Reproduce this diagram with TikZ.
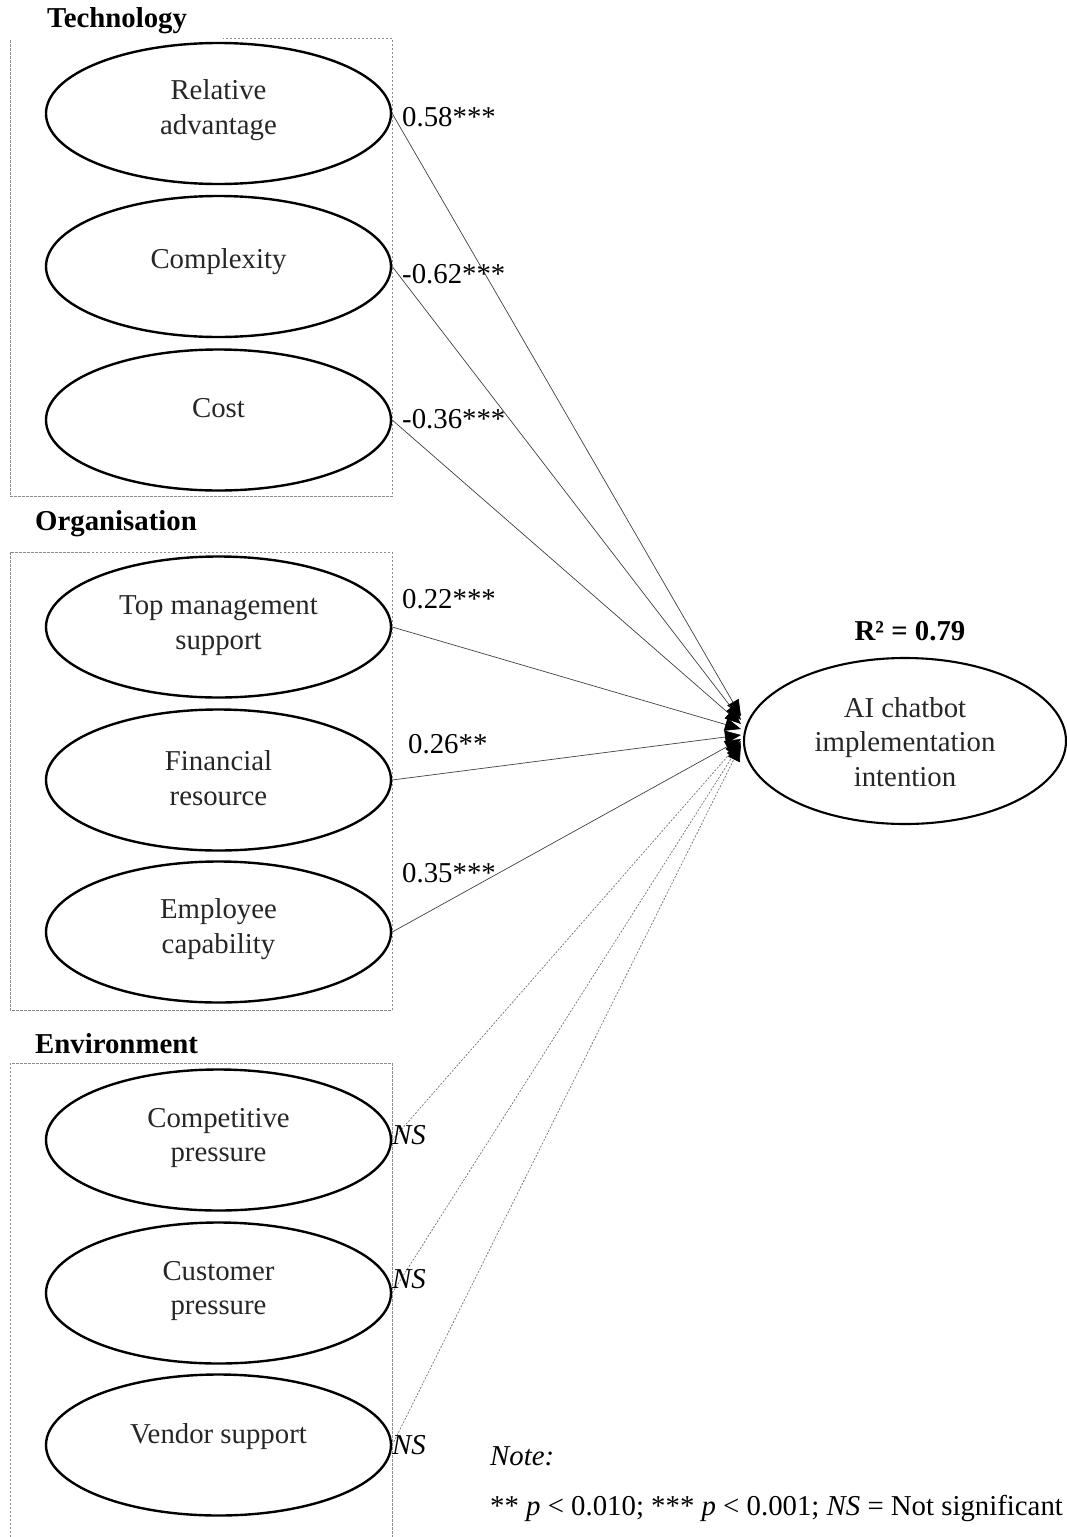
\documentclass[tikz,border=0pt]{standalone}
\usepackage{fontspec}
\setmainfont{Liberation Serif}
\usetikzlibrary{arrows.meta,calc,shapes.geometric}
\begin{document}
\begin{tikzpicture}[x=1pt,y=-1pt,
  every node/.style={font=\fontsize{28.8}{34.8}\selectfont},
  grpbox/.style={draw=black!45, line width=0.9pt, dash pattern=on 2.5pt off 1.5pt},
  cons/.style={draw, ellipse, line width=2.4pt, minimum width=345pt, minimum height=141pt, inner sep=0pt},
  target/.style={draw, ellipse, line width=2.1pt, minimum width=322pt, minimum height=166pt, inner sep=0pt},
  ctext/.style={align=center, text=black!85, inner sep=0pt},
  head/.style={font=\fontsize{28.8}{34}\selectfont\bfseries, anchor=base west, inner sep=0pt},
  coef/.style={anchor=base west, inner sep=0pt},
  sig/.style={draw=black!75, line width=0.7pt, -{Triangle[length=16pt,width=13pt,color=black,fill=black]}},
  nsig/.style={draw=black!55, line width=0.7pt, dash pattern=on 2pt off 1.5pt, -{Triangle[length=16pt,width=13pt,color=black,fill=black]}}
]
\useasboundingbox (0,0) rectangle (1067,1537);

% group boxes
\draw[grpbox] (10,40) -- (10,496) -- (392,496) -- (392,38) -- (223,38);
\draw[grpbox] (10,552) rectangle (392,1010);
\draw[grpbox] (10,1537) -- (10,1063) -- (392,1063) -- (392,1537);

% headings
\node[head] (hT) at (47,27) {Technology};
\node[head] (hO) at (35,530) {Organisation};
\node[head] (hE) at (35,1053) {Environment};

% construct ellipses
\node[cons] (ra) at (218.5,113.5) {};
\node[cons] (cx) at (218.5,266.5) {};
\node[cons] (co) at (218.5,420) {};
\node[cons] (tm) at (218.5,627) {};
\node[cons] (fr) at (218.5,780) {};
\node[cons] (ec) at (218.5,932) {};
\node[cons] (cp) at (218.5,1140) {};
\node[cons] (cu) at (218.5,1293) {};
\node[cons] (vs) at (218.5,1445) {};
\node[target] (ai) at (905,741) {};

% construct texts
\node[ctext] (tra) at ($(ra.center)+(0,-3)$) {Relative\\advantage};
\node[ctext, anchor=base] (tcx) at ($(cx.center)+(0,1.5)$) {Complexity};
\node[ctext, anchor=base] (tco) at ($(co.center)+(0,-3)$) {Cost};
\node[ctext] (ttm) at ($(tm.center)+(0,-1)$) {Top management\\support};
\node[ctext] (tfr) at ($(fr.center)+(0,-2)$) {Financial\\resource};
\node[ctext] (tec) at ($(ec.center)+(0,-3)$) {Employee\\capability};
\node[ctext] (tcp) at ($(cp.center)+(0,-2)$) {Competitive\\pressure};
\node[ctext] (tcu) at ($(cu.center)+(0,-2)$) {Customer\\pressure};
\node[ctext, anchor=base] (tvs) at ($(vs.center)+(0,-2)$) {Vendor support};
\node[ctext] (tai) at ($(ai.center)+(0,1)$) {AI chatbot\\implementation\\intention};

\node[anchor=base, inner sep=0pt, font=\fontsize{28.8}{34}\selectfont\bfseries] (r2) at (910,640) {R² = 0.79};

% paths
\draw[sig] (ra.east) -- ($(ai.west)+(-2,-25)$);
\draw[sig] (cx.east) -- ($(ai.west)+(-2,-21)$);
\draw[sig] (co.east) -- ($(ai.west)+(-2,-17)$);
\draw[sig] (tm.east) -- ($(ai.west)+(-2,-12)$);
\draw[sig] (fr.east) -- ($(ai.west)+(-2,-6)$);
\draw[sig] (ec.east) -- ($(ai.west)+(-2,-2)$);
\draw[nsig] (cp.east) -- ($(ai.west)+(-2,0)$);
\draw[nsig] (cu.east) -- ($(ai.west)+(-2,2)$);
\draw[nsig] (vs.east) -- ($(ai.west)+(-2,4)$);

% coefficients
\node[coef] (l1) at (402,126) {0.58***};
\node[coef] (l2) at (402,283) {-0.62***};
\node[coef] (l3) at (402,428) {-0.36***};
\node[coef] (l4) at (402,608) {0.22***};
\node[coef] (l5) at (408,753) {0.26**};
\node[coef] (l6) at (402,882) {0.35***};
\node[coef] (l7) at (392,1144) {\textit{NS}};
\node[coef] (l8) at (392,1288) {\textit{NS}};
\node[coef] (l9) at (392,1454) {\textit{NS}};

% note
\node[coef] (note) at (490,1465) {\textit{Note:}};
\node[coef] (notep) at (490,1515) {** \textit{p} < 0.010; *** \textit{p} < 0.001; \textit{NS} = Not significant};
\end{tikzpicture}
\end{document}
